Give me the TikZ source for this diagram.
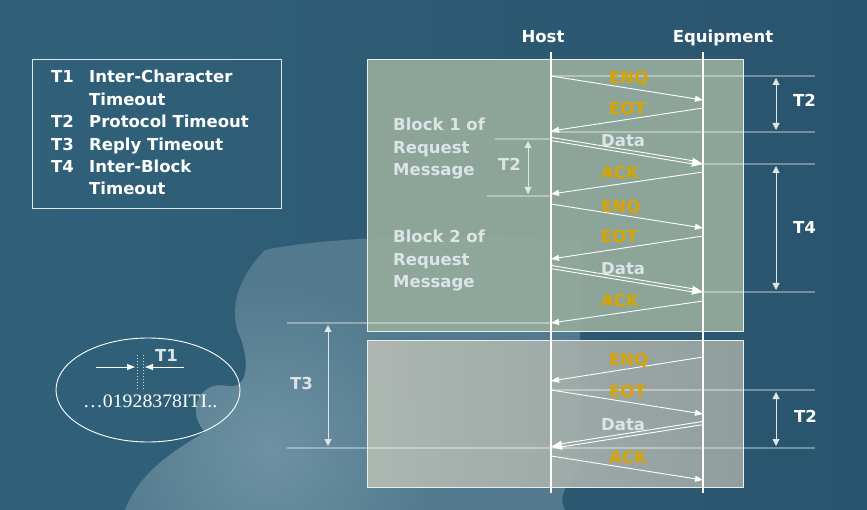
\documentclass[tikz,border=0pt]{standalone}
\usepackage{fontspec}
\setmainfont{DejaVu Sans}
\newfontfamily\serifnum{Liberation Serif}
\usetikzlibrary{arrows.meta,calc}
\definecolor{bgdark}{HTML}{29546D}
\definecolor{bgleft}{HTML}{31617A}
\definecolor{bglight}{HTML}{6E92A3}
\definecolor{piece}{HTML}{52798D}
\definecolor{boxA}{HTML}{93AA9B}
\definecolor{boxBl}{HTML}{B2BAB4}
\definecolor{boxBr}{HTML}{96A3A1}
\definecolor{gold}{HTML}{D9A300}
\definecolor{pale}{HTML}{DCE4E8}
\definecolor{tarr}{HTML}{DDE6EA}
\tikzset{
  lbl/.style={inner sep=0pt, anchor=base west, text=white},
  blk/.style={inner sep=0pt, anchor=base west, text=pale},
  msg/.style={inner sep=0pt, anchor=base west, text=gold},
  msgw/.style={inner sep=0pt, anchor=base west, text=pale},
  lifeline/.style={draw=white, line width=1.5pt},
  guide/.style={draw=white, draw opacity=0.35, line width=1.5pt},
  arr/.style={draw=white, line width=0.9pt, -{Triangle[length=8pt,width=6pt]}},
  dline/.style={draw=white, line width=0.9pt, shorten >=6pt},
  dtip/.style={draw=white, line width=0.1pt, -{Triangle[length=11pt,width=9pt]}},
  tarrow/.style={draw=tarr, line width=1pt, {Triangle[length=7pt,width=7pt]}-{Triangle[length=7pt,width=7pt]}},
}
\begin{document}
\begin{tikzpicture}[x=1pt,y=-1pt, font=\fontsize{16.5}{22}\selectfont\bfseries]
\useasboundingbox (0,0) rectangle (867,510);
% background
\shade[left color=bgleft, right color=bgdark] (0,0) rectangle (867,510);
\begin{scope}
\clip (265,250) .. controls (320,238) and (440,232) .. (580,240)
  -- (580,470) .. controls (560,490) and (560,500) .. (565,510) -- (125,510) .. controls (140,472) and (172,452) .. (205,432)
  .. controls (185,410) and (200,380) .. (228,386) .. controls (252,390) and (248,352) .. (238,332)
  .. controls (228,300) and (245,270) .. (265,250) -- cycle;
\fill[piece] (100,230) rectangle (600,510);
\shade[inner color=bglight, outer color=piece] (270,450) circle (170);
\end{scope}

% legend
\draw[white!85!bgdark, line width=1pt] (32,60) rectangle (281,209);
\node[lbl] (l1a) at (51,83) {T1};
\node[lbl] (l1b) at (89,83) {Inter-Character};
\node[lbl] (l1c) at (89,105.5) {Timeout};
\node[lbl] (l2a) at (51,128) {T2};
\node[lbl] (l2b) at (89,128) {Protocol Timeout};
\node[lbl] (l3a) at (51,150.5) {T3};
\node[lbl] (l3b) at (89,150.5) {Reply Timeout};
\node[lbl] (l4a) at (51,173) {T4};
\node[lbl] (l4b) at (89,173) {Inter-Block};
\node[lbl] (l4c) at (89,195) {Timeout};

% boxes
\fill[boxA, opacity=0.95] (367,60) rectangle (743,332);
\draw[white!80!boxA, line width=1pt] (367,60) rectangle (743,332);
\shade[left color=boxBl, right color=boxBr, opacity=0.95] (367,341) rectangle (743,487);
\draw[white!80!boxA, line width=1pt] (367,341) rectangle (743,487);

% guide lines
\draw[guide] (551,76) -- (815,76);
\draw[guide] (551,132) -- (815,132);
\draw[guide] (703,164) -- (815,164);
\draw[guide] (703,292) -- (815,292);
\draw[guide] (495,139) -- (551,139);
\draw[guide] (487,196) -- (551,196);
\draw[guide] (287,323) -- (551,323);
\draw[guide] (287,448) -- (815,448);
\draw[guide] (551,390) -- (815,390);

% lifelines
\coordinate (hT) at (551,52); \coordinate (hB) at (551,493);
\coordinate (eT) at (703,52); \coordinate (eB) at (703,493);
\draw[lifeline] (hT) -- (hB);
\draw[lifeline] (eT) -- (eB);
\node[lbl, anchor=base] (host) at (543,43) {Host};
\node[lbl, anchor=base] (equip) at (723,43) {Equipment};

% message endpoints
\coordinate (s1) at (551,76);  \coordinate (t1) at (703,100);
\coordinate (s2) at (703,108); \coordinate (t2) at (551,131);
\coordinate (s3) at (551,139); \coordinate (t3) at (703,164);
\coordinate (s4) at (703,172); \coordinate (t4) at (551,194);
\coordinate (s5) at (551,204); \coordinate (t5) at (703,228);
\coordinate (s6) at (703,236); \coordinate (t6) at (551,259);
\coordinate (s7) at (551,267); \coordinate (t7) at (703,292);
\coordinate (s8) at (703,301); \coordinate (t8) at (551,323);
\coordinate (s9) at (703,357); \coordinate (t9) at (551,381);
\coordinate (s10) at (551,390); \coordinate (t10) at (703,414);
\coordinate (s11) at (703,423); \coordinate (t11) at (551,447);
\coordinate (s12) at (551,456); \coordinate (t12) at (703,480);

\draw[arr] (s1) -- (t1);
\draw[arr] (s2) -- (t2);
\draw[dline] ($(s3)+(0,-1.6)$) -- ($(t3)+(0,-1.6)$);
\draw[dline] ($(s3)+(0,1.6)$) -- ($(t3)+(0,1.6)$);
\draw[dtip] ($(s3)!0.9!(t3)$) -- (t3);
\draw[arr] (s4) -- (t4);
\draw[arr] (s5) -- (t5);
\draw[arr] (s6) -- (t6);
\draw[dline] ($(s7)+(0,-1.6)$) -- ($(t7)+(0,-1.6)$);
\draw[dline] ($(s7)+(0,1.6)$) -- ($(t7)+(0,1.6)$);
\draw[dtip] ($(s7)!0.9!(t7)$) -- (t7);
\draw[arr] (s8) -- (t8);
\draw[arr] (s9) -- (t9);
\draw[arr] (s10) -- (t10);
\draw[dline] ($(s11)+(0,-1.6)$) -- ($(t11)+(0,-1.6)$);
\draw[dline] ($(s11)+(0,1.6)$) -- ($(t11)+(0,1.6)$);
\draw[dtip] ($(s11)!0.9!(t11)$) -- (t11);
\draw[arr] (s12) -- (t12);

% message labels
\node[msg] (m1) at (609,84) {ENQ};
\node[msg] (m2) at (609,115) {EOT};
\node[msgw] (m3) at (601,147) {Data};
\node[msg] (m4) at (601,179) {ACK};
\node[msg] (m5) at (601,213) {ENQ};
\node[msg] (m6) at (601,243) {EOT};
\node[msgw] (m7) at (601,275) {Data};
\node[msg] (m8) at (601,307) {ACK};
\node[msg] (m9) at (609,365) {ENQ};
\node[msg] (m10) at (609,397) {EOT};
\node[msgw] (m11) at (601,430) {Data};
\node[msg] (m12) at (609,463) {ACK};

% block texts
\node[blk] (b1a) at (393,131) {Block 1 of};
\node[blk] (b1b) at (393,153.5) {Request};
\node[blk] (b1c) at (393,176) {Message};
\node[blk] (b2a) at (393,243) {Block 2 of};
\node[blk] (b2b) at (393,265.5) {Request};
\node[blk] (b2c) at (393,288) {Message};

% timeouts
\coordinate (ta1) at (776,78);  \coordinate (tb1) at (776,130);
\coordinate (ta2) at (776,166); \coordinate (tb2) at (776,290);
\coordinate (ta3) at (528,141); \coordinate (tb3) at (528,194);
\coordinate (ta4) at (328,325); \coordinate (tb4) at (328,446);
\coordinate (ta5) at (776,392); \coordinate (tb5) at (776,446);
\draw[tarrow] (ta1) -- (tb1);
\draw[tarrow] (ta2) -- (tb2);
\draw[tarrow] (ta3) -- (tb3);
\draw[tarrow] (ta4) -- (tb4);
\draw[tarrow] (ta5) -- (tb5);
\node[lbl] (tl1) at (793,107) {T2};
\node[lbl] (tl2) at (793,234) {T4};
\node[blk] (tl3) at (498,171) {T2};
\node[blk] (tl4) at (290,389) {T3};
\node[lbl] (tl5) at (794,422) {T2};

% ellipse detail
\draw[white, line width=0.9pt] (148,390) ellipse [x radius=92, y radius=52];
\coordinate (la) at (96,367); \coordinate (lb) at (135,367);
\coordinate (ra) at (184,367); \coordinate (rb) at (145,367);
\draw[arr] (la) -- (lb);
\draw[arr] (ra) -- (rb);
\draw[white!75!bgdark, dotted, line width=1pt] (137,355) -- (137,391);
\draw[white!75!bgdark, dotted, line width=1pt] (143,355) -- (143,391);
\node[lbl, text=pale] (t1lbl) at (155,361) {T1};
\node[inner sep=0pt, anchor=base west, text=white, font=\serifnum\fontsize{19}{19}\selectfont] (num) at (83,407) {\resizebox{134pt}{\height}{…01928378ITI..}};
\end{tikzpicture}
\end{document}
